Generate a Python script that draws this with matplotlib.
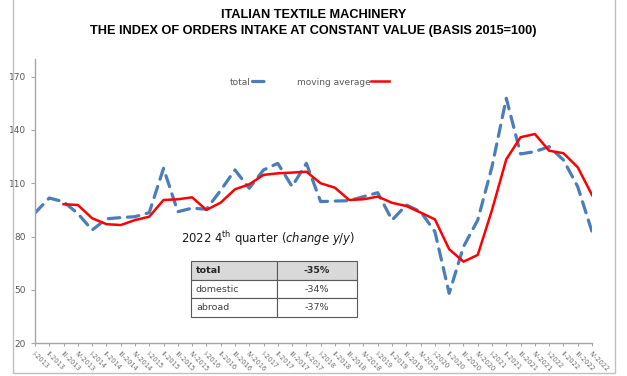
import numpy as np
import matplotlib.pyplot as plt
from matplotlib.patches import Rectangle

# quarters I-2013 ... IV-2022
years = list(range(2013, 2023))
quarters = ["I", "II", "III", "IV"]
labels = [f"{q}-{y}" for y in years for q in quarters]

total = [93.3, 101.7, 99.6, 93.0, 83.7, 90.0, 90.7, 91.2, 93.5, 118.4,
         94.0, 96.0, 95.4, 106.0, 117.5, 107.2, 117.5, 121.2, 108.2, 121.2,
         99.7, 100.0, 100.2, 102.5, 104.7, 89.3, 97.8, 94.0, 82.8, 48.1,
         74.3, 89.3, 119.4, 157.8, 126.5, 127.8, 130.6, 123.1, 108.1, 82.8]

# moving average starts at III-2013
mov_avg = [None, None, 98.2, 97.8, 90.3, 87.0, 86.5, 89.3, 91.2, 100.6,
           101.0, 102.1, 95.0, 99.1, 106.6, 109.4, 114.7, 115.6, 116.0, 116.5,
           110.0, 107.5, 100.6, 101.0, 102.5, 99.0, 97.2, 93.5, 89.7, 72.9,
           65.9, 69.7, 95.0, 123.5, 135.9, 137.7, 128.3, 126.9, 119.0, 103.4]

table_rows = [["total", "-35%"], ["domestic", "-34%"], ["abroad", "-37%"]]

x = np.arange(len(labels))
ma = np.array([np.nan if v is None else v for v in mov_avg])

fig = plt.figure(figsize=(6.27, 3.76), dpi=100)
ax = fig.add_axes([35/627, 1 - 343.3/376, 557/627, 284.5/376])

grey = "#595959"
blue = "#4a7ebb"

ax.plot(x, total, color=blue, lw=2.3, ls=(0, (3.6, 2.4)),
        dash_capstyle="round", label="total")
ax.plot(x, ma, color="#ff0000", lw=1.8, label="moving average")

ax.set_xlim(0, 39)
ax.set_ylim(20, 180)
ax.set_yticks([20, 50, 80, 110, 140, 170])
ax.set_xticks(x)
ax.set_xticklabels(labels, rotation=-45, ha="left", va="top",
                   rotation_mode="anchor", fontsize=4.8, color="#6e6e6e")
ax.tick_params(axis="y", labelsize=6.5, labelcolor=grey, color="#a6a6a6",
               length=3, width=0.8)
ax.tick_params(axis="x", color="#a6a6a6", length=2.5, width=0.8, pad=3)
for s in ["top", "right"]:
    ax.spines[s].set_visible(False)
for s in ["left", "bottom"]:
    ax.spines[s].set_color("#a6a6a6")
    ax.spines[s].set_linewidth(1.0)

leg = ax.legend(loc="center", bbox_to_anchor=(0.493, 0.918), ncol=2,
                frameon=False, markerfirst=False, fontsize=6.5,
                handlelength=2.0, handletextpad=0.1, columnspacing=3.0)
for t in leg.get_texts():
    t.set_color(grey)

# title
fig.text(0.5, 1 - 15/376, "ITALIAN TEXTILE MACHINERY", ha="center",
         va="center", fontsize=9.2, fontweight="bold",
         family="Liberation Sans")
fig.text(0.5, 1 - 31/376,
         "THE INDEX OF ORDERS INTAKE AT CONSTANT VALUE (BASIS 2015=100)",
         ha="center", va="center", fontsize=9.2, fontweight="bold",
         family="Liberation Sans")

# frame around the chart
fig.add_artist(Rectangle((13/627, 3/376), 602/627, 1.2, transform=fig.transFigure,
                         fill=False, ec="#c0c0c0", lw=1.0))

# change y/y box
def ax_x(px):
    return (px - 35) / 557

def ax_y(py):
    return (343.3 - py) / 284.5

ax.text(ax_x(181), ax_y(239),
        r"2022 4$^{\mathrm{th}}$ quarter $\mathit{(change\ y/y)}$",
        transform=ax.transAxes, fontsize=8.4, va="center", ha="left",
        color="#1a1a1a")

left, mid, right = 191, 277, 357
tops = [261, 279.7, 298.3, 317.3]
for i, (name, val) in enumerate(table_rows):
    y0, y1 = tops[i], tops[i + 1]
    fc = "#d9d9d9" if i == 0 else "white"
    for a, b in [(left, mid), (mid, right)]:
        ax.add_patch(Rectangle((ax_x(a), ax_y(y1)), ax_x(b) - ax_x(a),
                               ax_y(y0) - ax_y(y1), transform=ax.transAxes,
                               fc=fc, ec="#595959", lw=0.8, clip_on=False))
    yc = ax_y((y0 + y1) / 2)
    fw = "bold" if i == 0 else "normal"
    col = "#262626" if i == 0 else "#404040"
    ax.text(ax_x(left + 5), yc, name, transform=ax.transAxes, fontsize=6.8,
            va="center", ha="left", fontweight=fw, color=col)
    ax.text(ax_x((mid + right) / 2), yc, val, transform=ax.transAxes,
            fontsize=6.8, va="center", ha="center", fontweight=fw, color=col)

fig.savefig("out.png", dpi=100)
